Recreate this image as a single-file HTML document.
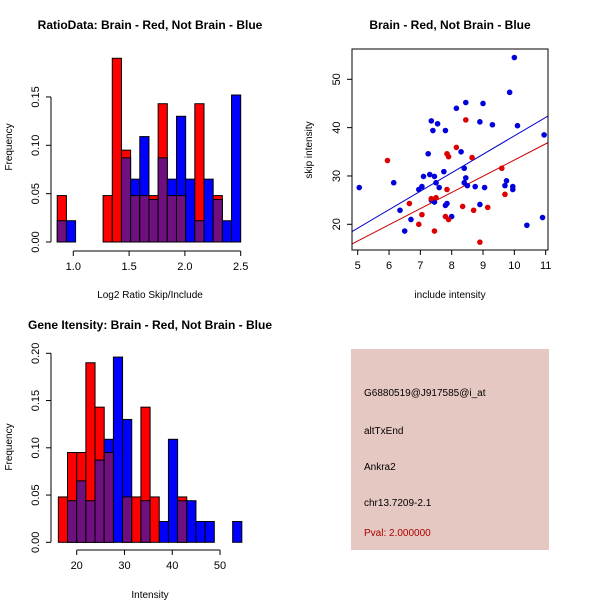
<!DOCTYPE html>
<html><head><meta charset="utf-8"><style>
body{margin:0;background:#fff}
svg{display:block;font-family:"Liberation Sans",Arial,sans-serif}
</style></head><body>
<svg id="c" width="600" height="600" xmlns="http://www.w3.org/2000/svg"></svg>
<script>
// ---- Ratio histogram data (bins 0..19) ----
const ratioBinStart = 0.856;
const ratioBinWidth = 0.0822;
const ratioRed  = [0.048,0,0,0,0,0.048,0.19,0.095,0.048,0.048,0.048,0.143,0.048,0.048,0,0.143,0,0.048,0,0];
const ratioBlue = [0.022,0.022,0,0,0,0,0,0.087,0.065,0.109,0.044,0.087,0.065,0.13,0.065,0.022,0.065,0.044,0.022,0.152];
const ratioXTicks = [1.0,1.5,2.0,2.5];
const ratioYTicks = [0,0.05,0.10,0.15];
// ---- Intensity histogram data ----
const intBinStart = 16.16;
const intBinWidth = 1.92;
const intRed  = [0.048,0.095,0.095,0.19,0.143,0.095,0,0.048,0.048,0.143,0.048,0,0,0.048,0,0,0,0,0,0];
const intBlue = [0,0.044,0.065,0.044,0.087,0.109,0.196,0.13,0,0.044,0,0.022,0.109,0.044,0.044,0.022,0.022,0,0,0.022];
const intXTicks = [20,30,40,50];
const intYTicks = [0,0.05,0.10,0.15,0.20];
// ---- Scatter data ----
const blueX = [5.05,6.15,6.35,6.5,6.7,6.95,7.05,7.1,7.25,7.3,7.35,7.35,7.4,7.45,7.45,7.5,7.55,7.6,7.75,7.8,7.8,7.85,8,8.15,8.3,8.4,8.4,8.45,8.45,8.5,8.75,8.9,8.9,9,9.05,9.3,9.7,9.75,9.85,9.95,9.95,10,10.1,10.4,10.9,10.95];
const blueY = [27.6,28.6,22.9,18.6,21,27.2,27.8,29.9,34.6,30.3,41.4,25,39.4,29.9,24.6,28.6,40.8,27.6,30.9,39.4,23.9,24.3,21.6,44,35,28.6,31.6,45.2,29.6,28,27.8,41.2,24.1,45,27.6,40.6,28,29,47.3,27.2,27.8,54.5,40.4,19.8,21.4,38.5];
const redX = [5.95,6.65,6.95,7.05,7.35,7.45,7.5,7.8,7.85,7.85,7.9,7.9,8.15,8.35,8.45,8.65,8.7,8.9,9.15,9.6,9.7];
const redY = [33.2,24.3,20,22,25.3,18.6,25.5,21.6,34.6,27.2,21,34,35.9,23.7,41.6,33.8,22.9,16.3,23.5,31.6,26.2];
const blueFit = [0.1, 3.82]; // intercept, slope
const redFit = [-0.2, 3.35];
const scXTicks = [5,6,7,8,9,10,11];
const scYTicks = [20,30,40,50];

const svg=document.getElementById('c');
const NS='http://www.w3.org/2000/svg';
function mk(tag,attrs,parent,text){const e=document.createElementNS(NS,tag);for(const k in attrs)e.setAttribute(k,attrs[k]);if(text!==undefined)e.textContent=text;(parent||svg).appendChild(e);return e;}

function hist(g,red,blue,start,w,xs,ys,xTicks,yTicks,yaxX,xaxY,xfmt,yfmt){
  for(let i=0;i<red.length;i++){
    const x0=xs(start+i*w),x1=xs(start+(i+1)*w);
    const r=red[i],b=blue[i],m=Math.min(r,b),M=Math.max(r,b);
    if(M<=0)continue;
    const col=r>=b?'#ff0000':'#0000ff';
    const e1=mk('rect',{x:x0,y:ys(M),width:x1-x0,height:ys(0)-ys(M),fill:col,stroke:'#000','stroke-width':1},g);
    
    
    if(m>0){const e2=mk('rect',{x:x0,y:ys(m),width:x1-x0,height:ys(0)-ys(m),fill:'#701080',stroke:'#000','stroke-width':1},g);
      
      }
  }
  mk('line',{x1:yaxX,x2:yaxX,y1:ys(yTicks[0]),y2:ys(yTicks[yTicks.length-1]),stroke:'#000'},g);
  yTicks.forEach(t=>{const y=ys(t);mk('line',{x1:yaxX-5,x2:yaxX,y1:y,y2:y,stroke:'#000'},g);
    const tx=mk('text',{x:yaxX-12,y:y,'font-size':11,'text-anchor':'middle',transform:`rotate(-90 ${yaxX-12} ${y})`},g,yfmt(t));
    });
  mk('line',{x1:xs(xTicks[0]),x2:xs(xTicks[xTicks.length-1]),y1:xaxY,y2:xaxY,stroke:'#000'},g);
  xTicks.forEach(t=>{const x=xs(t);mk('line',{x1:x,x2:x,y1:xaxY,y2:xaxY+5,stroke:'#000'},g);
    const tx=mk('text',{x:x,y:xaxY+19,'font-size':11,'text-anchor':'middle'},g,xfmt(t));
    });
}

// Panel 1
const g1=mk('g',{});
const r1x=v=>73.3+(v-1)*111.6, r1y=v=>242-v*967;
hist(g1,ratioRed,ratioBlue,ratioBinStart,ratioBinWidth,r1x,r1y,ratioXTicks,ratioYTicks,51,251,t=>t.toFixed(1),t=>t.toFixed(2));
mk('text',{x:150,y:29,'font-size':12,'font-weight':'bold','text-anchor':'middle'},g1,'RatioData: Brain - Red, Not Brain - Blue');
mk('text',{x:150,y:298,'font-size':10,'text-anchor':'middle'},g1,'Log2 Ratio Skip/Include');
mk('text',{x:12,y:147,'font-size':10,'text-anchor':'middle',transform:'rotate(-90 12 147)'},g1,'Frequency');

// Panel 3
const g3=mk('g',{});
const i1x=v=>76.7+(v-20)*4.778, i1y=v=>542.3-v*945;
hist(g3,intRed,intBlue,intBinStart,intBinWidth,i1x,i1y,intXTicks,intYTicks,51,550,t=>String(t),t=>t.toFixed(2));
mk('text',{x:150,y:329,'font-size':12,'font-weight':'bold','text-anchor':'middle'},g3,'Gene Itensity: Brain - Red, Not Brain - Blue');
mk('text',{x:150,y:598,'font-size':10,'text-anchor':'middle'},g3,'Intensity');
mk('text',{x:12,y:447,'font-size':10,'text-anchor':'middle',transform:'rotate(-90 12 447)'},g3,'Frequency');

// Panel 2 scatter
const g2=mk('g',{});
const sx=v=>357.7+(v-5)*31.33, sy=v=>224.3-(v-20)*4.833;
const L=352,R=548,T=49,B=250;
const cp=mk('clipPath',{id:'cp'},g2);mk('rect',{x:L,y:T,width:R-L,height:B-T},cp);
const sv=v=>(v-357.7)/31.33+5;
[[blueFit,'#0000cc','blue-fit-line'],[redFit,'#cc0000','red-fit-line']].forEach(([f,c,n])=>{
  const xa=sv(L),xb=sv(R);
  const l=mk('line',{x1:L,x2:R,y1:sy(f[0]+f[1]*xa),y2:sy(f[0]+f[1]*xb),stroke:c,'clip-path':'url(#cp)'},g2);
  });
blueX.forEach((x,i)=>{const c=mk('circle',{cx:sx(x),cy:sy(blueY[i]),r:2.8,fill:'#0000dd'},g2);
  });
redX.forEach((x,i)=>{const c=mk('circle',{cx:sx(x),cy:sy(redY[i]),r:2.8,fill:'#dd0000'},g2);
  });
mk('rect',{x:L,y:T,width:R-L,height:B-T,fill:'none',stroke:'#000'},g2);
scXTicks.forEach(t=>{const x=sx(t);mk('line',{x1:x,x2:x,y1:B,y2:B+5,stroke:'#000'},g2);
  const tx=mk('text',{x:x,y:B+19,'font-size':11,'text-anchor':'middle'},g2,String(t));
  });
scYTicks.forEach(t=>{const y=sy(t);mk('line',{x1:L-5,x2:L,y1:y,y2:y,stroke:'#000'},g2);
  const tx=mk('text',{x:L-12,y:y,'font-size':11,'text-anchor':'middle',transform:`rotate(-90 ${L-12} ${y})`},g2,String(t));
  });
mk('text',{x:450,y:29,'font-size':12,'font-weight':'bold','text-anchor':'middle'},g2,'Brain - Red, Not Brain - Blue');
mk('text',{x:450,y:298,'font-size':10,'text-anchor':'middle'},g2,'include intensity');
mk('text',{x:312,y:150,'font-size':10,'text-anchor':'middle',transform:'rotate(-90 312 150)'},g2,'skip intensity');

// Panel 4 info
const g4=mk('g',{});
mk('rect',{x:351,y:349,width:198,height:201,fill:'#e6c8c2'},g4);
[['G6880519@J917585@i_at',396,'#000','probe-id'],['altTxEnd',434,'#000','event-type'],['Ankra2',470,'#000','gene-name'],['chr13.7209-2.1',506,'#000','location'],['Pval: 2.000000',536,'#aa0000','p-value']].forEach(([t,y,c,n])=>{
  const e=mk('text',{x:364,y:y,'font-size':10,fill:c},g4,t);});
</script>
</body></html>
